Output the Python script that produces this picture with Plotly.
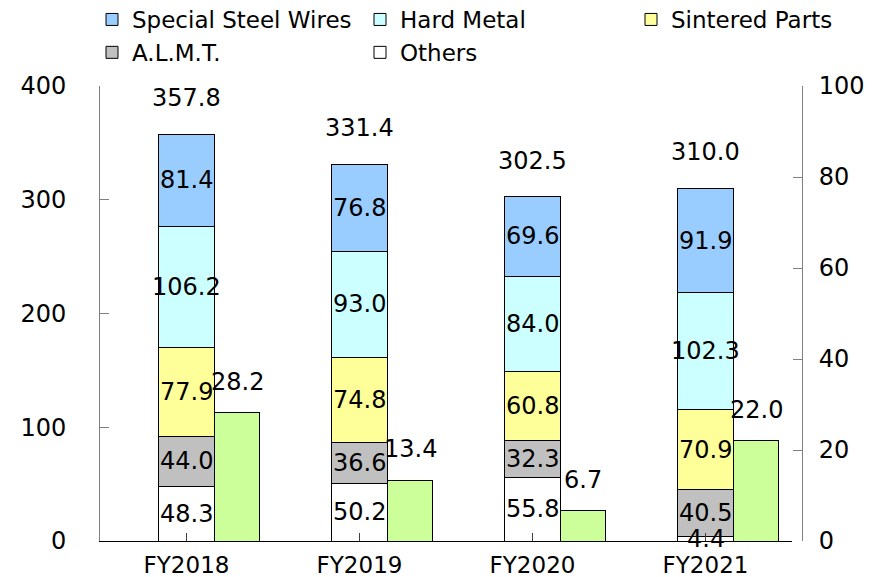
import plotly.graph_objects as go

categories = ["FY2018", "FY2019", "FY2020", "FY2021"]
others = [48.3, 50.2, 55.8, 4.4]
almt = [44.0, 36.6, 32.3, 40.5]
sintered = [77.9, 74.8, 60.8, 70.9]
hard_metal = [106.2, 93.0, 84.0, 102.3]
special_steel = [81.4, 76.8, 69.6, 91.9]
totals = [357.8, 331.4, 302.5, 310.0]
secondary = [28.2, 13.4, 6.7, 22.0]

# (name, values, colour, legend column, legend rank)
series = [
    ("Others", others, "#FFFFFF", "legend2", 5),
    ("A.L.M.T.", almt, "#C0C0C0", "legend", 4),
    ("Sintered Parts", sintered, "#FFFF99", "legend3", 3),
    ("Hard Metal", hard_metal, "#CCFFFF", "legend2", 2),
    ("Special Steel Wires", special_steel, "#99CCFF", "legend", 1),
]

FONT = "DejaVu Sans"
LBL = 24
W1, OFF1 = 0.324, -0.162
W2, OFF2 = 0.26, 0.162
PAGE_OFF = 8  # body margin of the html page

fig = go.Figure()
idx = list(range(len(categories)))
for name, vals, col, lg, rk in series:
    fig.add_trace(go.Bar(
        x=idx, y=vals, name=name, width=W1, offset=OFF1,
        marker=dict(color=col, line=dict(color="#000000", width=1)),
        xaxis="x", yaxis="y", legend=lg, legendgroup=name, legendrank=rk,
    ))
fig.add_trace(go.Bar(
    x=idx, y=secondary, name="Operating income", width=W2, offset=OFF2,
    marker=dict(color="#CCFF99", line=dict(color="#000000", width=1)),
    xaxis="x", yaxis="y2", showlegend=False,
))

ann = []
for i in idx:
    base = 0.0
    for name, vals, col, lg, rk in series:
        v = vals[i]
        ann.append(dict(x=i, y=base + v / 2, xref="x", yref="y", text=f"{v:.1f}",
                        showarrow=False, font=dict(size=LBL, color="#000000", family=FONT)))
        base += v
    ann.append(dict(x=i, y=totals[i], xref="x", yref="y", text=f"{totals[i]:.1f}",
                    showarrow=False, yshift=36, font=dict(size=LBL, color="#000000", family=FONT)))
    ann.append(dict(x=i + OFF2 + W2 / 2, y=secondary[i], xref="x", yref="y2",
                    text=f"{secondary[i]:.1f}", showarrow=False, yshift=31,
                    font=dict(size=LBL, color="#000000", family=FONT)))

def legend_box(text_left_px):
    return dict(
        orientation="v", traceorder="grouped", tracegroupgap=0,
        xref="container", yref="paper",
        x=(text_left_px - 49) / 875, xanchor="left",
        y=1 + 88 / 455, yanchor="top",
        font=dict(family=FONT, size=23, color="#000000"),
        bgcolor="rgba(0,0,0,0)", borderwidth=0,
    )

fig.update_layout(
    width=875, height=577,
    margin=dict(l=100 - PAGE_OFF, r=73 + PAGE_OFF, t=86 - PAGE_OFF, b=36 + PAGE_OFF, autoexpand=False),
    paper_bgcolor="#FFFFFF", plot_bgcolor="#FFFFFF",
    barmode="stack",
    font=dict(family=FONT, size=LBL, color="#000000"),
    annotations=ann,
    showlegend=True,
    legend=legend_box(133),
    legend2=legend_box(401),
    legend3=legend_box(672),
    xaxis=dict(
        domain=[0, 692 / 702],
        range=[-0.5, 3.5],
        tickmode="array", tickvals=idx, ticktext=categories,
        showline=True, linecolor="#000000", linewidth=1,
        ticks="inside", ticklen=8, tickcolor="#404040",
        showgrid=False, zeroline=False,
        ticklabelstandoff=3,
        tickfont=dict(size=23, family=FONT),
    ),
    yaxis=dict(
        range=[0, 400], tickmode="linear", tick0=0, dtick=100,
        showline=True, linecolor="#808080", linewidth=1,
        ticks="inside", ticklen=9, tickcolor="#808080",
        showgrid=False, zeroline=False,
        ticklabelstandoff=28,
        tickfont=dict(size=LBL, family=FONT),
    ),
    yaxis2=dict(
        range=[0, 100], tickmode="linear", tick0=0, dtick=20,
        overlaying="y", side="right", anchor="free", position=1,
        showline=True, linecolor="#808080", linewidth=1,
        ticks="inside", ticklen=9, tickcolor="#808080",
        showgrid=False, zeroline=False,
        ticklabelstandoff=11,
        tickfont=dict(size=LBL, family=FONT),
    ),
)

fig.write_html("out.html")
